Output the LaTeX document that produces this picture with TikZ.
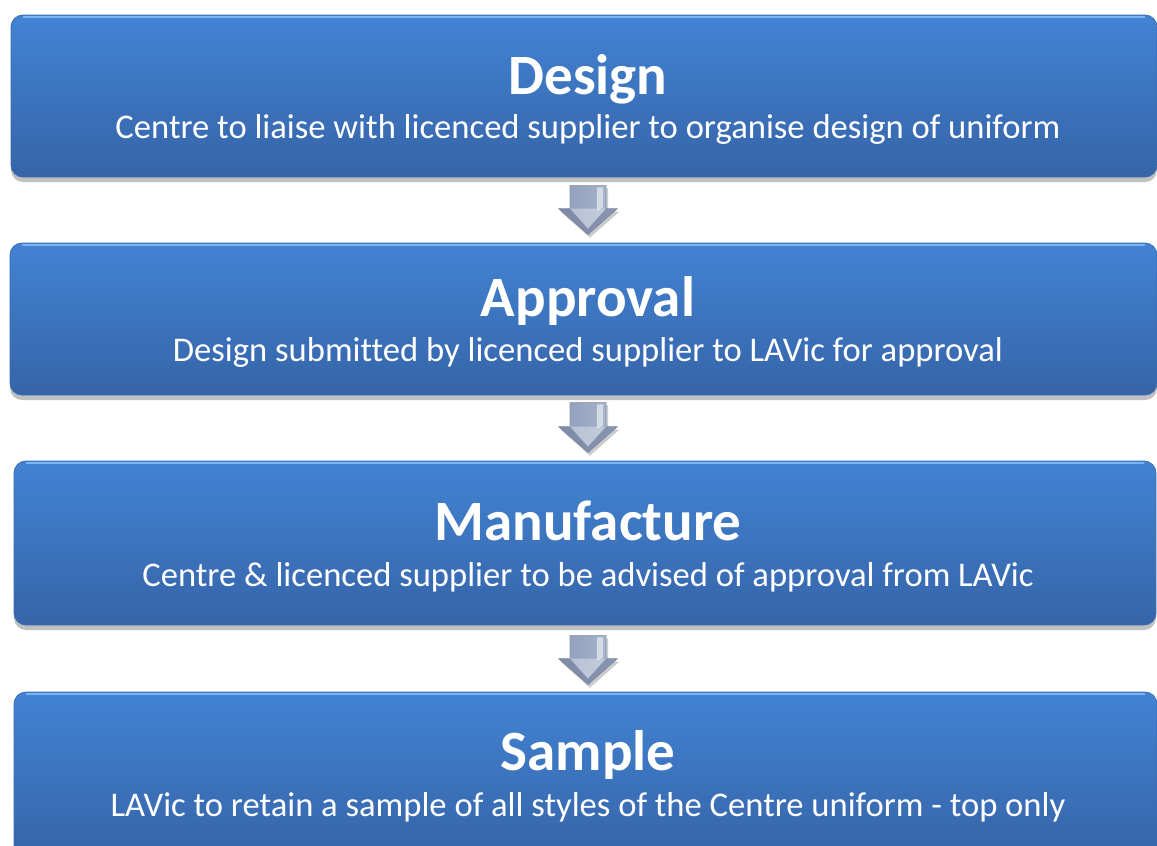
\documentclass[tikz,border=0pt]{standalone}
\usepackage{fontspec}
\setmainfont[Ligatures=NoCommon]{Carlito}
\usetikzlibrary{calc,shadows}
\definecolor{boxtop}{HTML}{4283D3}
\definecolor{boxbot}{HTML}{3664A8}
\definecolor{boxedge}{HTML}{3A6CB0}
\definecolor{boxhi}{HTML}{7DB4F2}
\definecolor{arrl}{HTML}{8E9CB8}
\definecolor{arrr}{HTML}{A9B7D0}
\definecolor{arrdark}{HTML}{6E7C98}
\tikzset{
  box/.style={rectangle, rounded corners=12pt, top color=boxtop, bottom color=boxbot,
    draw=boxedge, line width=0.8pt,
    drop shadow={shadow xshift=0pt, shadow yshift=-5pt, opacity=0.35, fill=black!70}},
  ttl/.style={anchor=base, text=white, font=\fontsize{57}{60}\selectfont\bfseries, inner sep=0pt},
  sub/.style={anchor=base, text=white, font=\fontsize{34.6}{40}\selectfont, inner sep=0pt},
  arrowbody/.style={left color=arrl, right color=arrr, draw=arrdark!80, line width=0.6pt, line join=round,
    drop shadow={shadow xshift=2pt, shadow yshift=-3pt, opacity=0.2, fill=black}},
}
\newcommand\boxhighlight[1]{%
  \draw[boxhi, line width=2.2pt, line cap=round]
    ($(#1.north west)+(13,2.5)$) -- ($(#1.north east)+(-13,2.5)$);}
\newcommand\blockarrow[2]{%
  % #1 = top coordinate name, #2 = tip coordinate name
  \path[arrowbody] ($(#1)+(-18,0)$) -- ($(#1)+(18,0)$) -- ($(#2)+(18,-26)$) -- ($(#2)+(29.5,-26)$)
     -- (#2) -- ($(#2)+(-29.5,-26)$) -- ($(#2)+(-18,-26)$) -- cycle;
  \fill[white, opacity=0.55] ($(#1)+(9,2)$) -- ($(#1)+(15,2)$) -- ($(#2)+(15,-27)$) -- ($(#2)+(9,-24)$) -- cycle;
  \fill[arrdark, opacity=0.55] ($(#2)+(-29.5,-26)$) -- ($(#2)+(-18,-26)$) -- ($(#2)+(0,-6)$) -- ($(#2)+(18,-26)$) -- ($(#2)+(29.5,-26)$) -- (#2) -- cycle;
  \fill[white, opacity=0.35] ($(#2)+(-18,-26)$) -- ($(#2)+(0,-6)$) -- ($(#2)+(18,-26)$) -- cycle;
}
\begin{document}
\begin{tikzpicture}[x=1pt, y=-1pt]
\clip (0,0) rectangle (1157,846);
\fill[white] (0,0) rectangle (1157,846);
\coordinate (cx) at (588,0);
% boxes
\node[box, minimum width=1146pt, minimum height=162pt] (b1) at (584,96) {};
\node[box, minimum width=1147pt, minimum height=152pt] (b2) at (583.5,319) {};
\node[box, minimum width=1142pt, minimum height=164pt] (b3) at (585,543) {};
\node[box, minimum width=1143pt, minimum height=166pt] (b4) at (585.5,775) {};
\boxhighlight{b1}\boxhighlight{b2}\boxhighlight{b3}\boxhighlight{b4}
% texts
\node[ttl] (t1) at (588,94) {Design};
\node[sub] (s1) at (588,138) {Centre to liaise with licenced supplier to organise design of uniform};
\node[ttl] (t2) at (588,316) {Approval};
\node[sub] (s2) at (588,361) {Design submitted by licenced supplier to LAVic for approval};
\node[ttl] (t3) at (588,540) {Manufacture};
\node[sub] (s3) at (588,586) {Centre \& licenced supplier to be advised of approval from LAVic};
\node[ttl] (t4) at (588,770) {Sample};
\node[sub] (s4) at (588,816) {LAVic to retain a sample of all styles of the Centre uniform - top only};
% arrow anchor coordinates
\coordinate (a1t) at ($(b1.south -| cx)+(0,8)$);
\coordinate (a1p) at ($(b2.north -| cx)+(0,-8)$);
\coordinate (a2t) at ($(b2.south -| cx)+(0,7)$);
\coordinate (a2p) at ($(b3.north -| cx)+(0,-8)$);
\coordinate (a3t) at ($(b3.south -| cx)+(0,10)$);
\coordinate (a3p) at ($(b4.north -| cx)+(0,-7)$);
\blockarrow{a1t}{a1p}
\blockarrow{a2t}{a2p}
\blockarrow{a3t}{a3p}
\end{tikzpicture}
\end{document}
